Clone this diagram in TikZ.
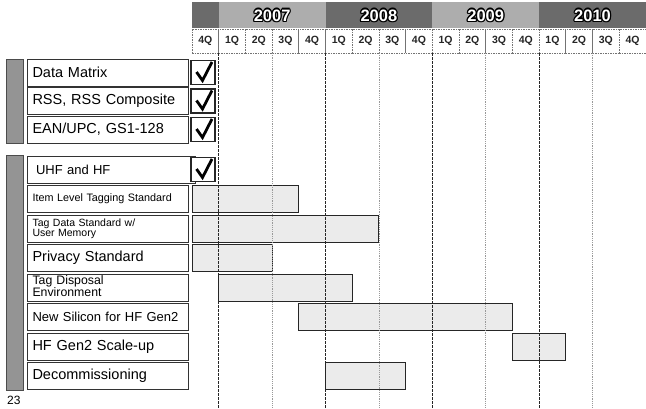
\documentclass[tikz,border=0pt]{standalone}
\usepackage{fontspec}
\setmainfont{Liberation Sans}
\newcommand\yeartxt[3]{%
  \foreach \dx/\dy in {-1.2/0,1.2/0,0/-1.2,0/1.2,-0.9/-0.9,0.9/0.9,-0.9/0.9,0.9/-0.9}{\node[yrtext,text=black] at (#2+\dx,15.5+\dy) {#3};}
  \node[yrtext,text=white] (#1) at (#2,15.5) {#3};}
\begin{document}
\begin{tikzpicture}[x=1bp,y=-1bp,
  lblbox/.style={draw=black!80, line width=0.9bp, fill=white, minimum width=161bp, minimum height=27bp, text width=150bp, align=left, inner xsep=5.5bp, inner ysep=0bp, anchor=north west, outer sep=0},
  fbig/.style={font=\fontsize{14.5bp}{16bp}\selectfont},
  fmid/.style={font=\fontsize{13bp}{15bp}\selectfont},
  fsmall/.style={font=\fontsize{10.8bp}{12bp}\selectfont},
  ftiny/.style={font=\fontsize{10.5bp}{9.4bp}\selectfont},
  fdisp/.style={font=\fontsize{12.3bp}{10.8bp}\selectfont},
  chkbox/.style={draw=black!85, line width=1.1bp, fill=white, minimum width=24bp, minimum height=24bp, inner sep=0, outer sep=0},
  tick/.style={line width=2.8bp, black, line join=miter, line cap=butt},
  gbar/.style={draw=black!85, line width=1bp, fill=black!8, minimum height=27bp, inner sep=0, outer sep=0, anchor=north west},
  grp/.style={draw=black!70, line width=0.6bp, fill=black!42, inner sep=0, outer sep=0, anchor=north west, minimum width=17bp},
  qcell/.style={draw=black!55, dash pattern=on 1.5bp off 1bp, line width=0.7bp, fill=white, minimum width=26.7bp, minimum height=24bp, inner sep=0, outer sep=0, anchor=north west, font=\fontsize{10.5bp}{11bp}\selectfont\bfseries, text=black!85},
  yline/.style={black!85, line width=1bp, dash pattern=on 2.5bp off 1.5bp},
  mline/.style={black!40, line width=0.8bp, dash pattern=on 1.2bp off 1bp},
  yrtext/.style={font=\fontsize{16.5bp}{16.5bp}\selectfont\bfseries, inner sep=0}
]
\useasboundingbox (0,0) rectangle (646,408);
\fill[white] (0,0) rectangle (646,408);

% year band
\fill[black!58] (192,2) rectangle (646,28);
\fill[black!32] (218.7,2) rectangle (325.5,28);
\fill[black!32] (432.3,2) rectangle (539.1,28);
\yeartxt{y7}{272.1}{2007}
\yeartxt{y8}{378.9}{2008}
\yeartxt{y9}{485.7}{2009}
\yeartxt{y10}{592.5}{2010}

% quarter cells
\foreach \k/\t in {0/4Q,1/1Q,2/2Q,3/3Q,4/4Q,5/1Q,6/2Q,7/3Q,8/4Q,9/1Q,10/2Q,11/3Q,12/4Q,13/1Q,14/2Q,15/3Q,16/4Q}
  \node[qcell] (q\k) at ({192+26.7*\k},29) {\t};

% group bars
\node[grp, minimum height=84bp] (g1) at (6,59) {};
\node[grp, minimum height=235bp] (g2) at (6,155) {};

% labels
\node[lblbox,fbig] (l1) at (27,59) {Data Matrix};
\node[lblbox,fbig] (l2) at (27,87.5) {RSS, RSS Composite};
\node[lblbox,fbig] (l3) at (27,116) {EAN/UPC, GS1-128};
\node[lblbox,fmid,inner xsep=9bp] (l4) at (27,156) {UHF and HF};
\node[lblbox,fsmall] (l5) at (27,185.5) {Item Level Tagging Standard};
\node[lblbox,ftiny] (l6) at (27,215) {Tag Data Standard w/\\User Memory};
\node[lblbox,fbig] (l7) at (27,244.5) {Privacy Standard};
\node[lblbox,fdisp] (l8) at (27,274) {Tag Disposal\\Environment\rule[-2.5bp]{0pt}{0pt}};
\node[lblbox,fmid] (l9) at (27,303.5) {New Silicon for HF Gen2};
\node[lblbox,fbig] (l10) at (27,333) {HF Gen2 Scale-up};
\node[lblbox,fbig] (l11) at (27,362.5) {Decommissioning};

% checkboxes
\foreach \n/\y in {1/72.5,2/101,3/129.5,4/169.5}{
  \node[chkbox] (c\n) at (203,\y) {};
  \draw[tick] (c\n.center) ++(-6.5,-0.5) -- ++(6,8.5) -- ++(9.5,-18.5);
}

% gantt bars
\node[gbar, minimum width=106.8bp] (b1) at (192,185.5) {};
\node[gbar, minimum width=186.9bp] (b2) at (192,215) {};
\node[gbar, minimum width=80.1bp] (b3) at (192,244.5) {};
\node[gbar, minimum width=133.5bp] (b4) at (218.7,274) {};
\node[gbar, minimum width=213.6bp] (b5) at (298.8,303.5) {};
\node[gbar, minimum width=53.4bp] (b6) at (512.4,333) {};
\node[gbar, minimum width=80.1bp] (b7) at (325.5,362.5) {};

% vertical guide lines
\foreach \k in {1,5,9,13}{
  \coordinate (e\k) at ({192+26.7*\k},408);
  \draw[yline] (q\k.south west) -- (e\k);
}
\foreach \k in {3,7,11,15}{
  \coordinate (e\k) at ({192+26.7*\k},408);
  \draw[mline] (q\k.south west) -- (e\k);
}

\node[anchor=north west, inner sep=0, font=\fontsize{12bp}{13bp}\selectfont] (pg) at (7,396) {23};
\end{tikzpicture}
\end{document}
